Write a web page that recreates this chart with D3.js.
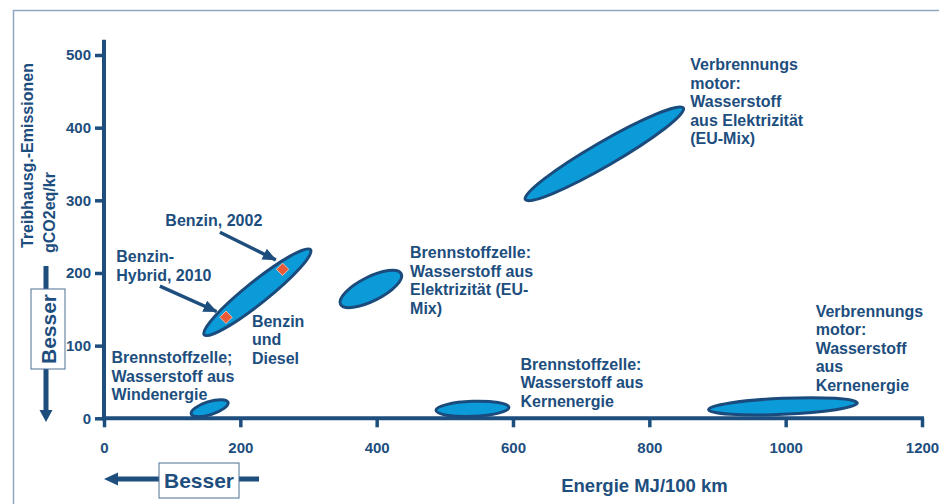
<!DOCTYPE html>
<html>
<head>
<meta charset="utf-8">
<script src="https://cdn.jsdelivr.net/npm/d3@7"></script>
<style>
body { margin: 0; background: #fff; }
text { font-family: "Liberation Sans", Arial, sans-serif; font-weight: bold; fill: #1d4e7e; }
</style>
</head>
<body>
<div id="chart"></div>
<script>
// Energie vs. Treibhausgas, Pfade als Ellipsen
var w = 939;
var h = 504;

// data: each path is a band from (energyLow, emissionLow) to (energyHigh, emissionHigh)
var paths = ['Wind-BZ', 'Benzin/Diesel', 'BZ EU-Mix', 'BZ Kern', 'VM EU-Mix', 'VM Kern'];
var energyLow = [128, 147, 347, 487, 618, 887];
var energyHigh = [182, 303, 436, 594, 850, 1105];
var emissionLow = [6, 115, 157, 11, 301, 12];
var emissionHigh = [22, 232, 199, 15, 427, 21];

var pointNames = ['Benzin, 2002', 'Benzin-Hybrid, 2010'];
var pointEnergy = [262, 179];
var pointEmission = [205, 139];

var xTicks = [0, 200, 400, 600, 800, 1000, 1200];
var yTicks = [0, 100, 200, 300, 400, 500];

// annotation texts, anchored in data units (left edge, first baseline)
var labelLines = [
    ['Benzin, 2002'],
    ['Benzin-', 'Hybrid, 2010'],
    ['Benzin', 'und', 'Diesel'],
    ['Brennstoffzelle;', 'Wasserstoff aus', 'Windenergie'],
    ['Brennstoffzelle:', 'Wasserstoff aus', 'Elektrizität (EU-', 'Mix)'],
    ['Brennstoffzelle:', 'Wasserstoff aus', 'Kernenergie'],
    ['Verbrennungs', 'motor:', 'Wasserstoff', 'aus Elektrizität', '(EU-Mix)'],
    ['Verbrennungs', 'motor:', 'Wasserstoff', 'aus', 'Kernenergie']
];
var labelEnergy = [90, 18, 217, 11, 449, 611, 860, 1044];
var labelEmission = [264, 215, 126, 76, 220, 67, 479, 140];

// pointer arrows from the two labels to the points
var arrowFrom = [[170, 256], [82, 182]];
var arrowTo = [[252, 218], [165, 147]];

// styling
var blue = '#1d4e7e';
var bandHalfWidth = [6.5, 11, 12, 7.5, 12, 8];
var lineHeight = 18.5;

var svg = d3.select('#chart')
    .append('svg')
    .attr('width', w)
    .attr('height', h);

var xScale = d3.scaleLinear().domain([0, 1200]).range([104, 922]);
var yScale = d3.scaleLinear().domain([0, 500]).range([418.3, 55]);

// outer frame
svg.append('path')
    .attr('d', 'M13.5,' + h + ' L13.5,10.5 L' + w + ',10.5')
    .attr('fill', 'none')
    .attr('stroke', '#8fa6c4')
    .attr('stroke-width', 1.5);

svg.append('defs').append('marker')
    .attr('id', 'head')
    .attr('markerUnits', 'userSpaceOnUse')
    .attr('viewBox', '0 0 14 12')
    .attr('markerWidth', 14)
    .attr('markerHeight', 12)
    .attr('refX', 13)
    .attr('refY', 6)
    .attr('orient', 'auto')
    .append('path')
    .attr('d', 'M0,0 L14,6 L0,12 z')
    .attr('fill', blue);

// axes
var yAxis = d3.axisLeft(yScale)
    .tickValues(yTicks)
    .tickFormat(d3.format('d'))
    .tickSize(9)
    .tickPadding(4)
    .tickSizeOuter(0);
var xAxis = d3.axisBottom(xScale)
    .tickValues(xTicks)
    .tickFormat(d3.format('d'))
    .tickSize(9)
    .tickPadding(15)
    .tickSizeOuter(0);

var gy = svg.append('g')
    .attr('transform', `translate(${xScale(0)}, 0)`)
    .call(yAxis);
var gx = svg.append('g')
    .attr('transform', `translate(0, ${yScale(0)})`)
    .call(xAxis);

[gx, gy].forEach(g => {
    g.select('.domain').remove();
    g.selectAll('.tick line').attr('stroke', blue).attr('stroke-width', 3.5);
    g.selectAll('.tick text')
        .attr('fill', blue)
        .style('font-size', '15px')
        .style('font-family', '"Liberation Sans", Arial, sans-serif');
});

svg.append('line')
    .attr('x1', xScale(0)).attr('x2', xScale(0))
    .attr('y1', yScale(521)).attr('y2', yScale(0) + 2)
    .attr('stroke', blue).attr('stroke-width', 4);
svg.append('line')
    .attr('x1', xScale(0) - 2).attr('x2', xScale(1200) + 2)
    .attr('y1', yScale(0)).attr('y2', yScale(0))
    .attr('stroke', blue).attr('stroke-width', 4);

// bands as rotated ellipses
svg.selectAll('.band')
    .data(paths)
    .enter()
    .append('ellipse')
    .attr('class', 'band')
    .each(function(d, i) {
        let x1 = xScale(energyLow[i]), y1 = yScale(emissionLow[i]);
        let x2 = xScale(energyHigh[i]), y2 = yScale(emissionHigh[i]);
        let cx = (x1 + x2) / 2, cy = (y1 + y2) / 2;
        let rx = Math.hypot(x2 - x1, y2 - y1) / 2;
        let ang = Math.atan2(y2 - y1, x2 - x1) * 180 / Math.PI;
        d3.select(this)
            .attr('cx', cx).attr('cy', cy)
            .attr('rx', rx).attr('ry', bandHalfWidth[i])
            .attr('transform', `rotate(${ang}, ${cx}, ${cy})`);
    })
    .attr('fill', '#0b9bd8')
    .attr('stroke', '#1a4b7c')
    .attr('stroke-width', 3);

// red markers
svg.selectAll('.pt')
    .data(pointNames)
    .enter()
    .append('path')
    .attr('class', 'pt')
    .attr('d', d3.symbol().type(d3.symbolSquare).size(78))
    .attr('transform', (d, i) => `translate(${xScale(pointEnergy[i])}, ${yScale(pointEmission[i])}) rotate(45)`)
    .attr('fill', '#ea5a36')
    .attr('stroke', '#f6c6b4')
    .attr('stroke-width', 0.8);

svg.selectAll('.pointer')
    .data(arrowFrom)
    .enter()
    .append('line')
    .attr('class', 'pointer')
    .attr('x1', d => xScale(d[0]))
    .attr('y1', d => yScale(d[1]))
    .attr('x2', (d, i) => xScale(arrowTo[i][0]))
    .attr('y2', (d, i) => yScale(arrowTo[i][1]))
    .attr('stroke', blue)
    .attr('stroke-width', 3.5)
    .attr('marker-end', 'url(#head)');

// labels
svg.selectAll('.lbl')
    .data(labelLines)
    .enter()
    .append('text')
    .attr('class', 'lbl')
    .attr('x', (d, i) => xScale(labelEnergy[i]))
    .attr('y', (d, i) => yScale(labelEmission[i]))
    .style('font-size', '16px')
    .each(function(d) {
        let t = d3.select(this);
        d.forEach((line, j) => {
            t.append('tspan')
                .attr('x', t.attr('x'))
                .attr('dy', j === 0 ? 0 : lineHeight)
                .text(line);
        });
    });

// axis titles
svg.append('text')
    .attr('x', 644.5)
    .attr('y', 492)
    .attr('text-anchor', 'middle')
    .style('font-size', '18.5px')
    .text('Energie MJ/100 km');

svg.append('text')
    .attr('transform', 'translate(33, 248) rotate(-90)')
    .style('font-size', '16px')
    .text('Treibhausg.-Emissionen');
svg.append('text')
    .attr('transform', 'translate(55, 253) rotate(-90)')
    .style('font-size', '16px')
    .text('gCO2eq/kr');

// "Besser" arrows
var vArrow = svg.append('g');
vArrow.append('line')
    .attr('x1', 46).attr('x2', 46)
    .attr('y1', 266).attr('y2', 412)
    .attr('stroke', blue).attr('stroke-width', 5);
vArrow.append('path')
    .attr('d', 'M39.5,410 L52.5,410 L46,422 z')
    .attr('fill', blue);
vArrow.append('rect')
    .attr('x', 31).attr('y', 289)
    .attr('width', 34).attr('height', 80)
    .attr('fill', '#fff')
    .attr('stroke', '#4d6f94').attr('stroke-width', 1);
vArrow.append('text')
    .attr('transform', 'translate(55.5, 329) rotate(-90)')
    .attr('text-anchor', 'middle')
    .style('font-size', '21px')
    .text('Besser');

var hArrow = svg.append('g');
hArrow.append('line')
    .attr('x1', 116).attr('x2', 259)
    .attr('y1', 479).attr('y2', 479)
    .attr('stroke', blue).attr('stroke-width', 5);
hArrow.append('path')
    .attr('d', 'M118,472.5 L118,485.5 L104,479 z')
    .attr('fill', blue);
hArrow.append('rect')
    .attr('x', 159).attr('y', 463)
    .attr('width', 80).attr('height', 35)
    .attr('fill', '#fff')
    .attr('stroke', '#4d6f94').attr('stroke-width', 1);
hArrow.append('text')
    .attr('x', 199)
    .attr('y', 488)
    .attr('text-anchor', 'middle')
    .style('font-size', '21px')
    .text('Besser');
</script>
</body>
</html>
